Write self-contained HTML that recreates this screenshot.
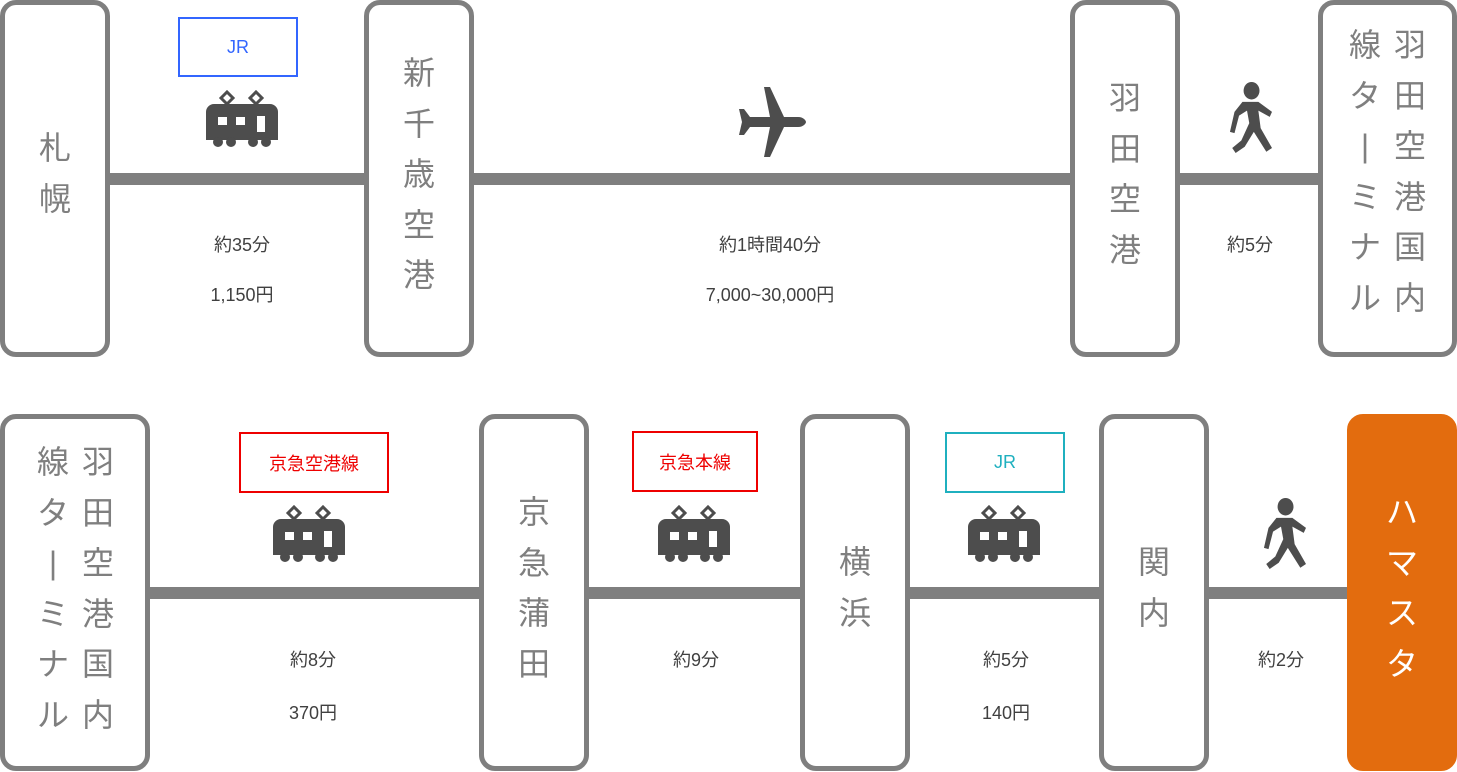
<!DOCTYPE html>
<html><head><meta charset="utf-8"><style>
body{margin:0;width:1457px;height:772px;background:#fff;position:relative;overflow:hidden;font-family:"Liberation Sans","Noto Sans CJK JP",sans-serif}
.b{position:absolute;box-sizing:border-box;border:5px solid #7f7f7f;border-radius:16px;background:#fff}
.l{position:absolute;background:#7f7f7f;height:12px}
.c{position:absolute;width:50px;color:#7f7f7f;font-size:32px;text-align:center}
.c div{height:50.5px;line-height:50.5px}
.t{position:absolute;width:300px;text-align:center;color:#404040;font-size:18px;line-height:24px}
.r{position:absolute;box-sizing:border-box;border:2px solid;text-align:center;font-size:18px;display:flex;align-items:center;justify-content:center}
svg{position:absolute}
</style></head><body>
<div class="l" style="left:100px;width:280px;top:173px"></div>
<div class="l" style="left:465px;width:615px;top:173px"></div>
<div class="l" style="left:1170px;width:160px;top:173px"></div>
<div class="l" style="left:140px;width:350px;top:587px"></div>
<div class="l" style="left:580px;width:230px;top:587px"></div>
<div class="l" style="left:900px;width:210px;top:587px"></div>
<div class="l" style="left:1200px;width:150px;top:587px"></div>

<div class="b" style="left:0;top:0;width:110px;height:357px"></div>
<div class="b" style="left:364px;top:0;width:110px;height:357px"></div>
<div class="b" style="left:1070px;top:0;width:110px;height:357px"></div>
<div class="b" style="left:1318px;top:0;width:139px;height:357px"></div>
<div class="b" style="left:0;top:414px;width:150px;height:357px"></div>
<div class="b" style="left:479px;top:414px;width:110px;height:357px"></div>
<div class="b" style="left:800px;top:414px;width:110px;height:357px"></div>
<div class="b" style="left:1099px;top:414px;width:110px;height:357px"></div>
<div class="b" style="left:1347px;top:414px;width:110px;height:357px;background:#e36c0e;border-color:#e36c0e"></div>

<div class="c" style="left:30px;top:123px"><div>札</div><div>幌</div></div>
<div class="c" style="left:394px;top:48px"><div>新</div><div>千</div><div>歳</div><div>空</div><div>港</div></div>
<div class="c" style="left:1100px;top:73px"><div>羽</div><div>田</div><div>空</div><div>港</div></div>
<div class="c" style="left:1385px;top:20px"><div>羽</div><div>田</div><div>空</div><div>港</div><div>国</div><div>内</div></div>
<div class="c" style="left:1340px;top:20px"><div>線</div><div>タ</div><div>|</div><div>ミ</div><div>ナ</div><div>ル</div></div>
<div class="c" style="left:73px;top:437px"><div>羽</div><div>田</div><div>空</div><div>港</div><div>国</div><div>内</div></div>
<div class="c" style="left:28px;top:437px"><div>線</div><div>タ</div><div>|</div><div>ミ</div><div>ナ</div><div>ル</div></div>
<div class="c" style="left:509px;top:487px"><div>京</div><div>急</div><div>蒲</div><div>田</div></div>
<div class="c" style="left:830px;top:537px"><div>横</div><div>浜</div></div>
<div class="c" style="left:1129px;top:537px"><div>関</div><div>内</div></div>
<div class="c" style="left:1377px;top:487px;color:#fff"><div>ハ</div><div>マ</div><div>ス</div><div>タ</div></div>

<div class="t" style="left:92px;top:233px">約35分</div>
<div class="t" style="left:92px;top:283px">1,150円</div>
<div class="t" style="left:620px;top:233px">約1時間40分</div>
<div class="t" style="left:620px;top:283px">7,000~30,000円</div>
<div class="t" style="left:1100px;top:233px">約5分</div>
<div class="t" style="left:163px;top:648px">約8分</div>
<div class="t" style="left:163px;top:701px">370円</div>
<div class="t" style="left:546px;top:648px">約9分</div>
<div class="t" style="left:856px;top:648px">約5分</div>
<div class="t" style="left:856px;top:701px">140円</div>
<div class="t" style="left:1131px;top:648px">約2分</div>

<div class="r" style="left:178px;top:17px;width:120px;height:60px;border-color:#3366ff;color:#3366ff">JR</div>
<div class="r" style="left:239px;top:432px;width:150px;height:61px;border-color:#ee0000;color:#ee0000">京急空港線</div>
<div class="r" style="left:632px;top:431px;width:126px;height:61px;border-color:#ee0000;color:#ee0000">京急本線</div>
<div class="r" style="left:945px;top:432px;width:120px;height:61px;border-color:#1fb0bf;color:#1fb0bf">JR</div>

<svg width="0" height="0"><defs>
<g id="tr"><path d="M15 8l6-6 6 6-6 6zM44 8l6-6 6 6-6 6z" fill="none" stroke="#4d4d4d" stroke-width="3"/>
<path d="M8 14h56a8 8 0 0 1 8 8v28H0V22a8 8 0 0 1 8-8z" fill="#4d4d4d"/>
<circle cx="12" cy="52" r="5" fill="#4d4d4d"/><circle cx="25" cy="52" r="5" fill="#4d4d4d"/><circle cx="47" cy="52" r="5" fill="#4d4d4d"/><circle cx="60" cy="52" r="5" fill="#4d4d4d"/>
<rect x="12" y="27" width="9" height="8" fill="#fff"/><rect x="30" y="27" width="9" height="8" fill="#fff"/><rect x="51" y="26" width="8" height="16" fill="#fff"/></g>
<g id="wk" fill="#4d4d4d"><circle cx="26" cy="7" r="7"/><path d="M18 16h14l12 8-2 4-10-5 2 14 10 16-5 3-11-16-8 12-8 5-3-4 8-6 7-14-2-10-7 4-4 14-4-1 4-16z"/></g>
</defs></svg>
<svg style="left:206px;top:90px" width="72" height="58"><use href="#tr"/></svg>
<svg style="left:273px;top:505px" width="72" height="58"><use href="#tr"/></svg>
<svg style="left:658px;top:505px" width="72" height="58"><use href="#tr"/></svg>
<svg style="left:968px;top:505px" width="72" height="58"><use href="#tr"/></svg>
<svg style="left:1222px;top:82px" width="50" height="71" viewBox="0 0 44 57" preserveAspectRatio="none"><use href="#wk"/></svg>
<svg style="left:1256px;top:498px" width="50" height="71" viewBox="0 0 44 57" preserveAspectRatio="none"><use href="#wk"/></svg>
<svg style="left:734px;top:86px" width="72" height="72" viewBox="0 0 72 72"><path fill="#4d4d4d" d="M30 1h6l14 30h14c6 0 8 4 8 5s-2 5-8 5H50L36 71h-6l6-30H16l-6 8H5l3-13-3-13h5l6 8h20z"/></svg>
</body></html>
